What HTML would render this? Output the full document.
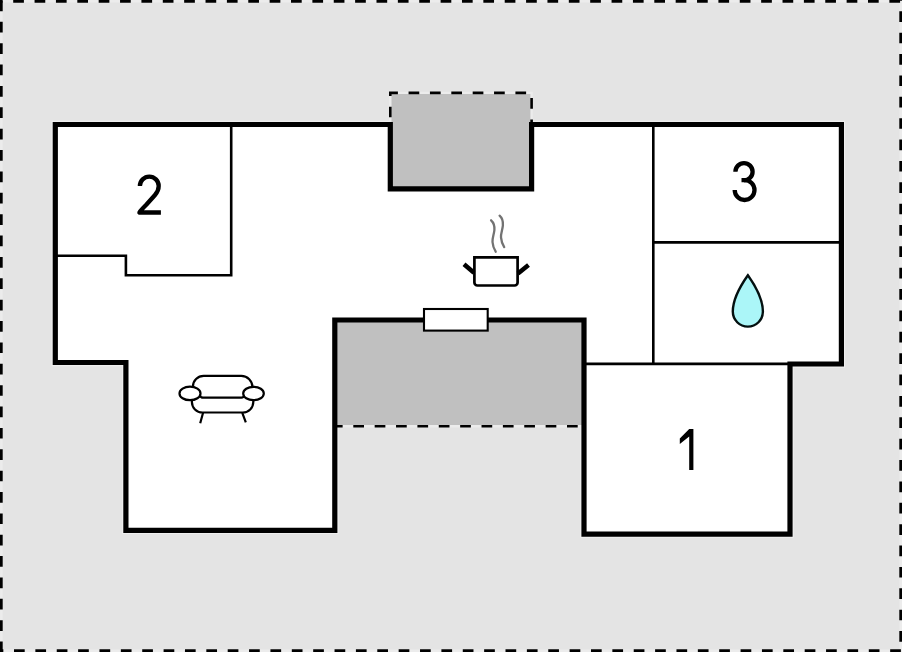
<!DOCTYPE html>
<html><head><meta charset="utf-8"><style>
html,body{margin:0;padding:0;background:#e4e4e4;}
svg{display:block;}
</style></head><body>
<svg width="902" height="652" viewBox="0 0 902 652">
<rect x="0" y="0" width="902" height="652" fill="#e4e4e4"/>
<!-- dashed underlay -->
<g stroke="#ececec" stroke-width="2.5" fill="none">
<line x1="0" y1="1.35" x2="902" y2="1.35"/>
<line x1="0" y1="650.65" x2="902" y2="650.65"/>
<line x1="1.35" y1="0" x2="1.35" y2="652"/>
<line x1="900.65" y1="0" x2="900.65" y2="652"/>
</g>
<!-- outer dashed border -->
<g stroke="#000" stroke-width="2.7" fill="none" stroke-dasharray="10.7 10.67">
<line x1="0" y1="1.35" x2="902" y2="1.35" stroke-dashoffset="-13.2"/>
<line x1="0" y1="650.65" x2="902" y2="650.65" stroke-dashoffset="-14"/>
<line x1="1.35" y1="0" x2="1.35" y2="652" stroke-dashoffset="-0.5"/>
<line x1="900.65" y1="0" x2="900.65" y2="652" stroke-dashoffset="-11.3"/>
</g>
<!-- fringe -->
<path d="M55.3 124.5 L390.3 124.5 L390.3 188.8 L531.6 188.8 L531.6 124.5 L841.4 124.5 L841.4 364 L790 364 L790 534.1 L584 534.1 L584 320 L334.8 320 L334.8 530.3 L125.9 530.3 L125.9 362.5 L55.3 362.5 Z" fill="none" stroke="#efefef" stroke-width="7.4"/>
<!-- gray areas -->
<rect x="390.3" y="92.9" width="141.3" height="95.9" fill="#c0c0c0"/>
<rect x="334.8" y="320" width="249.2" height="106.3" fill="#c0c0c0"/>
<!-- white interior -->
<path d="M55.3 124.5 L390.3 124.5 L390.3 188.8 L531.6 188.8 L531.6 124.5 L841.4 124.5 L841.4 364 L790 364 L790 534.1 L584 534.1 L584 320 L334.8 320 L334.8 530.3 L125.9 530.3 L125.9 362.5 L55.3 362.5 Z" fill="#fff" stroke="none"/>
<g stroke="#ececec" stroke-width="2.4" fill="none">
<path d="M390.3 124.5 L390.3 92.9 L531.6 92.9 L531.6 124.5"/>
<path d="M334.8 426.3 L584 426.3"/>
</g>
<!-- dashed lines -->
<g stroke="#000" stroke-width="2.6" fill="none" stroke-dasharray="10.7 10.67">
<path d="M390.3 124.5 L390.3 92.9 L531.6 92.9 L531.6 124.5" stroke-dashoffset="-7.13"/>
<path d="M334.8 426.3 L584 426.3" stroke-dashoffset="2.87"/>
</g>
<!-- thin walls -->
<g stroke="#000" stroke-width="2.6" fill="none">
<path d="M231.2 124.5 L231.2 275.3 L125.9 275.3 L125.9 255.8 L55.3 255.8"/>
<path d="M653.3 124.5 L653.3 364"/>
<path d="M653.3 242.4 L841.4 242.4"/>
<path d="M584 363.9 L790 363.9"/>
</g>
<!-- thick walls -->
<path d="M55.3 124.5 L390.3 124.5 L390.3 188.8 L531.6 188.8 L531.6 124.5 L841.4 124.5 L841.4 364 L790 364 L790 534.1 L584 534.1 L584 320 L334.8 320 L334.8 530.3 L125.9 530.3 L125.9 362.5 L55.3 362.5 Z" fill="none" stroke="#000" stroke-width="5.2" stroke-linejoin="miter"/>
<!-- window -->
<rect x="424" y="309" width="63.7" height="21.6" fill="#fff" stroke="#000" stroke-width="2.1"/>
<!-- digits -->
<g stroke="#000" fill="none" stroke-width="4.3" stroke-linejoin="round">
<path d="M139.9 186 A9.4 9.4 0 0 1 158.7 186 C158.7 189.8 157.6 192 155 195 L146.5 204.5 Q140.5 210.5 139.4 212.5 L160.9 212.5"/>
<path d="M735.4 171.7 A8.6 8.6 0 1 1 744 180.3 M741.5 180.2 L744.6 180.2 A9.9 9.9 0 1 1 734.7 190.1"/>
</g>
<path d="M679.8 438.6 L689.2 429 L693.4 429 L693.4 469.9 L689.2 469.9 L689.2 436.5 L679.8 444 Z" fill="#000"/>
<!-- pot -->
<g stroke="#000" fill="none">
<path d="M474.4 257.4 L517.6 257.4 L517.6 282.5 A3 3 0 0 1 514.6 285.5 L477.4 285.5 A3 3 0 0 1 474.4 282.5 Z" stroke-width="2.7" fill="#fff"/>
<path d="M464 264.3 L474 272.8 M528.5 265 L518 273.5" stroke-width="4.5"/>
</g>
<g stroke="#737373" fill="none" stroke-width="2.3" stroke-linecap="round">
<path d="M491.1 220.3 C494 222.8 494.7 226 494.4 230 C494 234.5 492.2 238 492.5 242 C492.8 246 494 249 495.7 251.7"/>
<path d="M499.6 215.7 C502.5 218.2 503.2 221.4 502.9 225.4 C502.5 229.9 500.7 233.4 501 237.4 C501.3 241.4 502.5 244.4 504.2 247.1"/>
</g>
<!-- drop -->
<path d="M747.9 275.2 C742 283.5 732.8 298 732.8 311.6 A15.05 15.05 0 0 0 762.9 311.6 C762.9 298 753.8 283.5 747.9 275.2 Z" fill="#abf6f8" stroke="#041010" stroke-width="2.4"/>
<!-- sofa -->
<g stroke="#000" fill="none" stroke-width="2.2">
<path d="M192.9 387 L192.9 386.7 A10.8 10.8 0 0 1 203.7 375.9 L241.3 375.9 A11.2 11.2 0 0 1 252.5 387.1"/>
<ellipse cx="190" cy="393.4" rx="10.5" ry="6.8"/>
<ellipse cx="253.5" cy="393.5" rx="10.3" ry="6.7"/>
<path d="M199.7 395.3 Q200.7 397.7 203.2 397.7 L241.5 397.7 Q243.5 397.7 244 395.8"/>
<path d="M191.9 400.3 L191.9 402 A10.5 10.5 0 0 0 202.4 412.5 L242.8 412.5 A10.5 10.5 0 0 0 253.3 402 L253.3 400.3"/>
<path d="M203.2 412.3 L200.2 423.2 M242.3 412.8 L245.8 422.3"/>
</g>
</svg>
</body></html>
